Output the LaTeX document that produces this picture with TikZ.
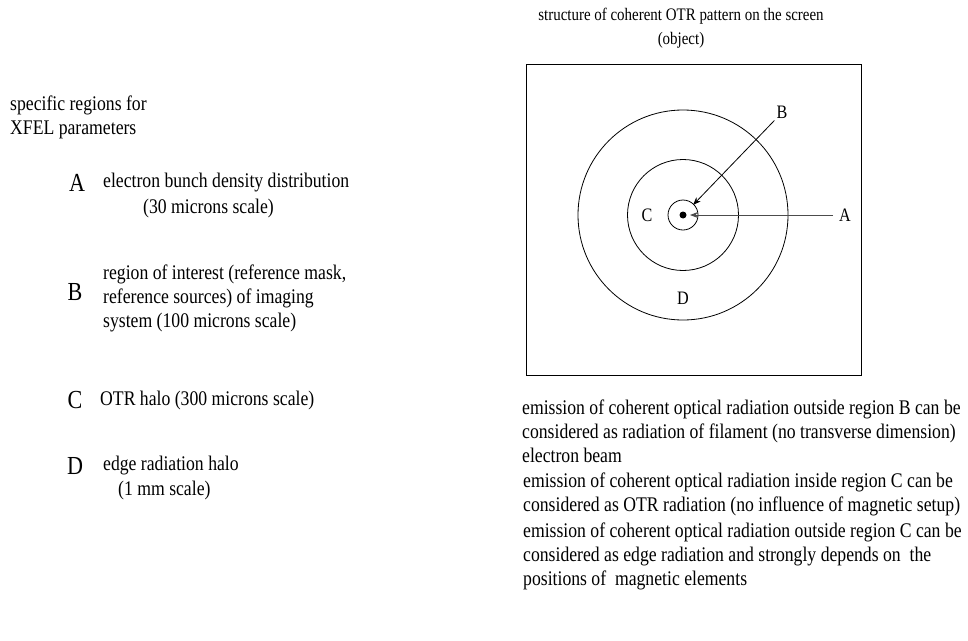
\documentclass[tikz,border=0pt]{standalone}
\usepackage{fontspec}
\setmainfont{Liberation Serif}[FakeStretch=0.85]
\usetikzlibrary{arrows.meta}
\begin{document}
\begin{tikzpicture}[x=1pt,y=-1pt,
  txt/.style={inner sep=0pt,align=left,font=\fontsize{20.8}{23.6}\selectfont},
  big/.style={inner sep=0pt,font=\fontsize{26}{28}\selectfont},
  lbl/.style={inner sep=0pt,font=\fontsize{19}{20}\selectfont},
  ring/.style={draw,line width=0.8pt},
  pointer/.style={draw,line width=0.8pt,-{Stealth[length=8pt,width=6pt]}}]
\useasboundingbox (0,0) rectangle (968,640);

% title above the screen
\node[inner sep=0pt,align=center,font=\fontsize{17.6}{24}\selectfont] (title) at (681,28) {structure of coherent OTR pattern on the screen\\(object)};

% screen with the concentric regions
\draw[line width=0.8pt] (526,64) rectangle (861,375);
\node[ring,circle,minimum size=210pt,inner sep=0pt] (rD) at (683,215) {};
\node[ring,circle,minimum size=111pt,inner sep=0pt] (rC) at (683,215) {};
\node[ring,circle,minimum size=30pt,inner sep=0pt] (rB) at (683,215) {};
\node[circle,fill,minimum size=7pt,inner sep=0pt] (rA) at (683,215) {};
\node[lbl] (cA) at (845,215) {A};
\node[lbl] (cB) at (782,112) {B};
\node[lbl] (cC) at (647,215) {C};
\node[lbl] (cD) at (683,298) {D};
\coordinate (tipA) at (690,215);
\coordinate (tipB) at (693,205);
\draw[pointer,draw=black!70] (833,215) -- (tipA);
\draw[pointer] (cB.south west) ++(-2,2) -- (tipB);

% legend on the left
\node[txt,anchor=north west] (head) at (10,96) {specific regions for\\XFEL parameters};

\node[big] (lA) at (77,183) {A};
\node[txt,anchor=west] (tA1) at (103,183) {electron bunch density distribution};
\node[txt,anchor=west] (tA2) at (143,208) {(30 microns scale)};

\node[big] (lB) at (75,292) {B};
\node[txt,anchor=north west] (tB) at (103,265) {region of interest (reference mask,\\reference sources) of imaging\\system (100 microns scale)};

\node[big] (lC) at (75,400) {C};
\node[txt,anchor=west] (tC) at (100,400) {OTR halo (300 microns scale)};

\node[big] (lD) at (75,466) {D};
\node[txt,anchor=west] (tD1) at (103,466) {edge radiation halo};
\node[txt,anchor=west] (tD2) at (118,490) {(1 mm scale)};

% notes below the screen
\node[txt,anchor=north west] (n1) at (522,400) {emission of coherent optical radiation outside region B can be\\considered as radiation of filament (no transverse dimension)\\electron beam};
\node[txt,anchor=north west] (n2) at (523,473) {emission of coherent optical radiation inside region C can be\\considered as OTR radiation (no influence of magnetic setup)};
\node[txt,anchor=north west] (n3) at (523,523) {emission of coherent optical radiation outside region C can be\\considered as edge radiation and strongly depends on\ \ the\\positions of\ \ magnetic elements};
\end{tikzpicture}
\end{document}
